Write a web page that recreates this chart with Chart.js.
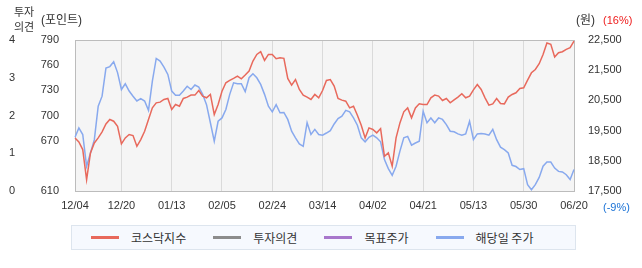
<!DOCTYPE html>
<html><head><meta charset="utf-8">
<script src="https://cdn.jsdelivr.net/npm/chart.js@4.4.1/dist/chart.umd.min.js"></script>
<style>
html,body{margin:0;padding:0;background:#fff;}
#wrap{position:relative;width:642px;height:268px;overflow:hidden;}
#box{position:absolute;left:0;top:0;width:642px;height:220px;}
#legend{position:absolute;left:71px;top:225px;width:505px;height:25px;box-sizing:border-box;border:1px solid #dde5ee;background:#f6f9fe;display:flex;align-items:center;padding-left:19px;font:12px "Noto Sans CJK KR","Liberation Sans",sans-serif;color:#333;}
.item{display:flex;align-items:center;margin-right:27px;white-space:nowrap;}
.sw{width:28px;height:3px;margin-right:12px;}
</style></head>
<body>
<div id="wrap">
  <div id="box"><canvas id="c"></canvas></div>
  <div id="legend"></div>
</div>
<script>
const DATES = [
 '12/04','12/05','12/06','12/09','12/10','12/11','12/12','12/13','12/16','12/17','12/18','12/19','12/20','12/23','12/24','12/26','12/27','12/30',
 '01/02','01/03','01/06','01/07','01/08','01/09','01/10','01/13','01/14','01/15','01/16','01/17','01/20','01/21','01/22','01/23','01/24','01/31',
 '02/03','02/04','02/05','02/06','02/07','02/10','02/11','02/12','02/13','02/14','02/17','02/18','02/19','02/20','02/21','02/24','02/25','02/26','02/27','02/28',
 '03/04','03/05','03/06','03/07','03/10','03/11','03/12','03/13','03/14','03/17','03/18','03/19','03/20','03/21','03/24','03/25','03/26','03/27','03/28','03/31',
 '04/01','04/02','04/03','04/04','04/07','04/08','04/09','04/10','04/11','04/14','04/15','04/16','04/17','04/18','04/21','04/22','04/23','04/24','04/25','04/28','04/29','04/30',
 '05/02','05/07','05/08','05/09','05/12','05/13','05/14','05/15','05/16','05/19','05/20','05/21','05/22','05/23','05/26','05/27','05/28','05/29','05/30',
 '06/02','06/04','06/05','06/09','06/10','06/11','06/12','06/13','06/16','06/17','06/18','06/19','06/20'
];
const TICK_LABELS = ['12/04','12/20','01/13','02/05','02/24','03/14','04/02','04/21','05/13','05/30','06/20'];

const KOSDAQ = [
 673.3, 668.5, 659.4, 623.5, 655.4, 667.3, 673.3, 680.5, 690.0, 695.2,
 693.2, 687.2, 666.1, 673.3, 677.3, 676.1, 663.3, 671.3, 681.2, 695.2,
 709.1, 715.1, 715.9, 719.1, 720.3, 707.1, 713.1, 711.1, 720.3, 721.9,
 724.3, 724.3, 729.8, 723.1, 721.1, 725.1, 701.2, 713.1, 729.0, 739.0,
 741.8, 744.2, 747.0, 743.8, 748.2, 753.0, 764.9, 772.8, 776.0, 765.7,
 772.8, 772.8, 767.7, 768.9, 768.1, 744.2, 736.2, 742.9, 731.0, 724.3,
 721.9, 719.1, 725.1, 721.1, 729.8, 741.8, 742.9, 735.0, 720.3, 718.3,
 717.1, 709.1, 711.1, 700.4, 688.4, 673.3, 685.2, 683.3, 679.3, 684.4,
 651.4, 655.4, 639.5, 673.3, 691.2, 704.4, 709.1, 697.2, 709.1, 713.9,
 713.1, 713.1, 721.1, 724.3, 723.1, 717.9, 720.3, 715.1, 718.7, 721.9,
 725.9, 721.1, 723.1, 730.6, 737.0, 731.0, 721.1, 712.3, 713.9, 720.3,
 714.3, 713.9, 721.9, 725.1, 727.1, 732.2, 733.0, 742.2, 750.9, 754.9,
 761.7, 772.8, 786.4, 784.8, 769.7, 774.8, 776.0, 778.8, 780.8, 788.8
];
const PRICE = [
 19280, 19590, 19370, 18320, 18760, 19200, 20310, 20640, 21570, 21620,
 21780, 21420, 20860, 21050, 20810, 20640, 20480, 20560, 20480, 20170,
 21140, 21890, 21800, 21600, 21360, 20810, 20670, 20670, 20810, 20970,
 20860, 21010, 20940, 20700, 20360, 19760, 19150, 19810, 19920, 20200,
 20700, 21080, 21050, 21050, 20790, 21250, 21380, 21250, 21030, 20700,
 20310, 20120, 20360, 20090, 20100, 19870, 19480, 19260, 19060, 18980,
 19760, 19370, 19540, 19370, 19350, 19420, 19500, 19720, 19900, 19980,
 20170, 20120, 19920, 19680, 19260, 19130, 19280, 19350, 19260, 19130,
 18540, 18240, 18020, 18320, 18820, 19260, 19310, 19020, 19090, 19150,
 20140, 19760, 19920, 19760, 19920, 19870, 19700, 19480, 19460, 19390,
 19350, 19390, 19810, 19200, 19390, 19400, 19390, 19350, 19540, 19200,
 18950, 18870, 18760, 18350, 18310, 18210, 18240, 17710, 17540, 17710,
 17950, 18320, 18460, 18460, 18260, 18150, 18130, 18040, 17880, 18210
];
const OPINION = [];
const TARGET = [];

const KOSDAQ_TICKS = [610, 670, 700, 730, 760, 790];
const PRICE_TICKS = [17500, 18500, 19500, 20500, 21500, 22500];
const OPINION_TICKS = [0, 1, 2, 3, 4];

const SERIES = ['코스닥지수', '투자의견', '목표주가', '해당일 주가'];
const COLORS = ['#e8695c', '#8c8c8c', '#a877cc', '#88a9ee'];

const FONT = '"Liberation Sans","Noto Sans CJK KR",sans-serif';

const framePlugin = {
  id: 'frame',
  beforeDraw(chart) {
    const {ctx, chartArea: a} = chart;
    ctx.save();
    ctx.fillStyle = '#f5f5f5';
    ctx.fillRect(a.left, a.top, a.right - a.left, a.bottom - a.top);
    ctx.restore();
  },
  beforeDatasetsDraw(chart) {
    const {ctx, chartArea: a} = chart;
    const l = Math.round(a.left), t = Math.round(a.top), r = Math.round(a.right), b = Math.round(a.bottom);
    ctx.save();
    ctx.strokeStyle = '#bcbcbc';
    ctx.lineWidth = 1;
    ctx.strokeRect(l + 0.5, t + 0.5, r - l, b - t);
    ctx.restore();
  },
  afterDraw(chart) {
    const {ctx} = chart;
    ctx.save();
    ctx.textBaseline = 'middle';
    ctx.fillStyle = '#333';
    ctx.font = '11px ' + FONT;
    ctx.textAlign = 'center';
    ctx.fillText('투자', 24, 13);
    ctx.fillText('의견', 24, 28);
    ctx.textAlign = 'left';
    ctx.font = '12px ' + FONT;
    ctx.fillText('(포인트)', 41, 21);
    ctx.fillText('(원)', 576, 21);
    ctx.font = '11px ' + FONT;
    ctx.fillStyle = '#ee1b1b';
    ctx.fillText('(16%)', 603, 21);
    ctx.fillStyle = '#1a72d6';
    ctx.fillText('(-9%)', 603, 208);
    ctx.restore();
  }
};

const tickFont = {family: FONT, size: 11};

const chart = new Chart(document.getElementById('c'), {
  type: 'line',
  data: {
    labels: DATES,
    datasets: [
      {label: SERIES[0], data: KOSDAQ, yAxisID: 'kosdaq', borderColor: COLORS[0], backgroundColor: COLORS[0], order: 2},
      {label: SERIES[1], data: OPINION, yAxisID: 'opinion', borderColor: COLORS[1], backgroundColor: COLORS[1]},
      {label: SERIES[2], data: TARGET, yAxisID: 'price', borderColor: COLORS[2], backgroundColor: COLORS[2]},
      {label: SERIES[3], data: PRICE, yAxisID: 'price', borderColor: COLORS[3], backgroundColor: COLORS[3], order: 3}
    ]
  },
  options: {
    responsive: true,
    maintainAspectRatio: false,
    devicePixelRatio: 1,
    animation: false,
    layout: {padding: {top: 40, left: 0, right: 0, bottom: 0}},
    elements: {
      point: {radius: 0, hoverRadius: 0},
      line: {borderWidth: 1.5, tension: 0, fill: false}
    },
    plugins: {legend: {display: false}, tooltip: {enabled: false}},
    scales: {
      x: {
        type: 'category',
        grid: {color: '#dadada', drawTicks: false, lineWidth: 1},
        border: {display: false},
        ticks: {autoSkip: false, maxRotation: 0, minRotation: 0, padding: 8, color: '#333', font: tickFont},
        afterBuildTicks(s) { s.ticks = s.ticks.filter(t => TICK_LABELS.includes(DATES[t.value])); },
        afterFit(s) { s.height = 29; }
      },
      opinion: {
        position: 'left', weight: 2, min: 0, max: 4,
        grid: {display: false}, border: {display: false},
        ticks: {padding: 17, color: '#333', font: tickFont},
        afterBuildTicks(s) { s.ticks = OPINION_TICKS.map(v => ({value: v})); },
        afterFit(s) { s.width = 40; }
      },
      kosdaq: {
        position: 'left', weight: 1, min: 610, max: 790,
        grid: {display: false}, border: {display: false},
        ticks: {padding: 8, color: '#333', font: tickFont},
        afterBuildTicks(s) { s.ticks = KOSDAQ_TICKS.map(v => ({value: v})); },
        afterFit(s) { s.width = 35; }
      },
      price: {
        position: 'right', min: 17500, max: 22500,
        grid: {display: false}, border: {display: false},
        ticks: {padding: 6, color: '#333', font: tickFont,
          callback: v => Number(v).toLocaleString('en-US')},
        afterBuildTicks(s) { s.ticks = PRICE_TICKS.map(v => ({value: v})); },
        afterFit(s) { s.width = 68; }
      }
    }
  },
  plugins: [framePlugin]
});

const lg = document.getElementById('legend');
SERIES.forEach((name, i) => {
  const it = document.createElement('div');
  it.className = 'item';
  const sw = document.createElement('span');
  sw.className = 'sw';
  sw.style.background = COLORS[i];
  const tx = document.createElement('span');
  tx.textContent = name;
  it.appendChild(sw); it.appendChild(tx);
  lg.appendChild(it);
});
</script>
</body></html>
